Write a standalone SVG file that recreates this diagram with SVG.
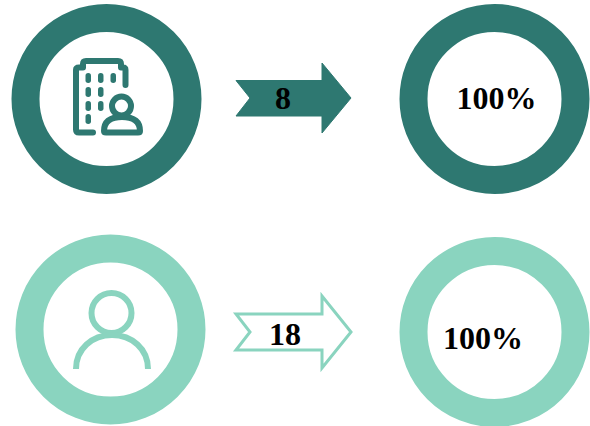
<svg xmlns="http://www.w3.org/2000/svg" width="590" height="426" viewBox="0 0 590 426">
<style>
.dark{stroke:#2e7871;fill:none}
.light{stroke:#8ad4bf;fill:none}
.ring{stroke-width:28}
.lbl{font-family:"Liberation Serif","Times New Roman",serif;font-weight:bold;fill:#000;text-anchor:middle}
.ic{stroke-width:6;stroke-linecap:round;stroke-linejoin:round}
.dot{fill:#2e7871}
</style>
<rect width="590" height="426" fill="#fff"/>
<g id="node-company">
<circle class="dark ring" cx="106.500" cy="99" r="81"/>
<path class="dark ic" d="M93 132.500H79Q76 132.500 76 129.500V70Q76 67.500 79 67.500H83V64Q83 61 86 61H118Q121 61 121 64V67.500H123Q125.500 67.500 125.500 70V85"/>
<g class="dot">
<rect x="85.500" y="73" width="5.500" height="10" rx="2.700"/><rect x="98" y="73" width="5.500" height="10" rx="2.700"/><rect x="110.500" y="73" width="5.500" height="10" rx="2.700"/>
<rect x="85.500" y="87" width="5.500" height="10" rx="2.700"/><rect x="98" y="87" width="5.500" height="10" rx="2.700"/>
<rect x="85.500" y="101" width="5.500" height="10" rx="2.700"/><rect x="98" y="101" width="5.500" height="10" rx="2.700"/>
<rect x="85.500" y="114" width="5.500" height="10" rx="2.700"/>
</g>
<circle class="dark ic" cx="121.500" cy="106" r="9.500"/>
<path class="dark ic" d="M104 131Q104 117 122 117Q140 117 140 131Q140 132.500 138 132.500H106Q104 132.500 104 131Z"/>
</g>
<g id="node-company-pct">
<circle class="dark ring" cx="494.500" cy="99" r="81"/>
<text class="lbl" x="496.500" y="109" font-size="32">100%</text>
</g>
<g id="node-person">
<circle class="light ring" cx="110.500" cy="329.500" r="81"/>
<circle class="light" stroke-width="6" cx="111.500" cy="313" r="20"/>
<path class="light" stroke-width="6" d="M76 369C76 349 92 335 112 335C132 335 148 349 148 369"/>
</g>
<g id="node-person-pct">
<circle class="light ring" cx="494.500" cy="332" r="81"/>
<text class="lbl" x="483" y="349" font-size="32">100%</text>
</g>
<g id="connectors">
<g id="arrow-8">
<path d="M236 80.500H322V63L351 98L322 133V116H236L250 98Z" fill="#2e7871" stroke="#2e7871"/>
<text class="lbl" x="283" y="109" font-size="32">8</text>
</g>
<g id="arrow-18">
<path d="M236 314H322V296L351 332L322 368V350H236L250 332Z" fill="#fff" stroke="#8ad4bf" stroke-width="3"/>
<text class="lbl" x="285" y="345" font-size="32">18</text>
</g>
</g>
</svg>
